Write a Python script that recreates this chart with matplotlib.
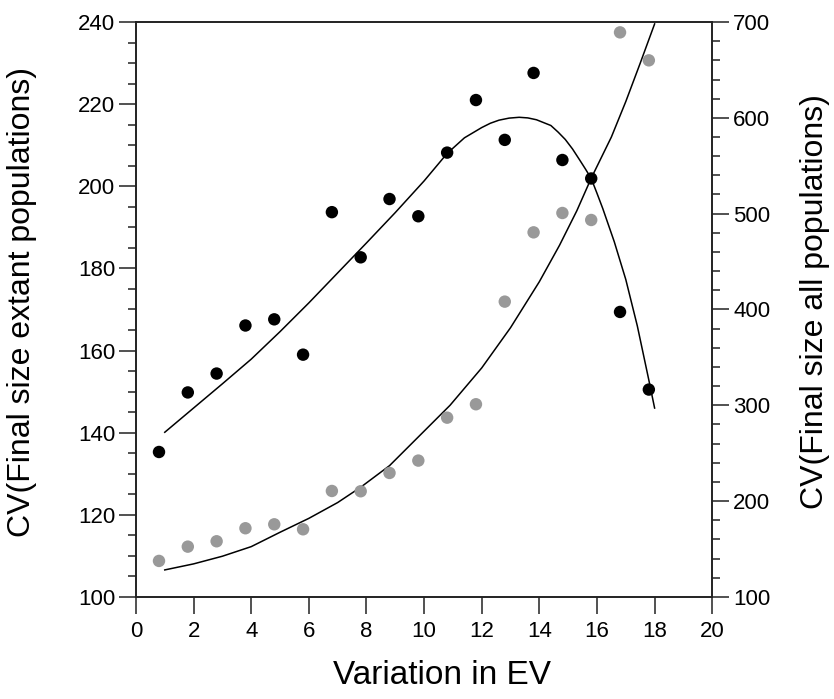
import matplotlib
matplotlib.use("Agg")
import matplotlib.pyplot as plt
from matplotlib.ticker import MultipleLocator

plt.rcParams['font.family'] = ['Liberation Sans', 'DejaVu Sans']

# Points
variation_ev = [0.8, 1.8, 2.8, 3.8, 4.8, 5.8, 6.8, 7.8, 8.8, 9.8,
                10.8, 11.8, 12.8, 13.8, 14.8, 15.8, 16.8, 17.8]
cv_extant = [135.3, 149.8, 154.4, 166.1, 167.6, 159.0, 193.7, 182.7, 196.9,
             192.7, 208.2, 221.0, 211.3, 227.6, 206.4, 201.9, 169.4, 150.5]
cv_all = [137.6, 152.5, 158.1, 171.7, 175.8, 170.6, 210.6, 210.3, 229.4,
          242.3, 287.1, 301.1, 408.2, 480.5, 500.7, 493.4, 689.2, 660.0]

# Courbes d'ajustement, relevees point par point sur l'image
fit_x_extant = [1.0, 2.0, 3.0, 4.0, 5.0, 6.0, 7.0, 8.0, 9.0, 10.0, 10.8,
                11.4, 12.0, 12.3, 12.6, 12.95, 13.3, 13.6, 13.9, 14.15, 14.4,
                14.65, 14.9, 15.15, 15.4, 15.6, 15.8, 16.0, 16.2, 16.6, 17.0,
                17.4, 17.8, 18.0]
fit_extant = [140.1, 146.0, 151.9, 157.9, 164.6, 171.6, 178.9, 186.2, 193.6,
              201.3, 208.0, 211.8, 214.3, 215.35, 216.1, 216.6, 216.8, 216.65,
              216.2, 215.5, 214.8, 213.2, 211.4, 209.1, 206.4, 204.2, 201.9,
              198.3, 194.6, 186.5, 177.3, 166.0, 152.8, 146.0]
fit_x_all = [1.0, 2.0, 3.0, 4.0, 5.0, 6.0, 7.0, 7.8, 8.8, 10.0, 10.9, 12.0,
             13.0, 14.0, 14.7, 15.3, 15.8, 16.5, 17.0, 17.5, 18.0]
fit_all = [128.2, 134.5, 142.5, 152.5, 167.5, 182.0, 198.5, 214.5, 237.0,
           273.0, 300.0, 339.0, 381.0, 429.0, 467.0, 503.0, 537.0, 580.0,
           617.0, 657.0, 698.0]

fig = plt.figure(figsize=(8.34, 6.99), dpi=100)
ax = fig.add_axes([0.163, 0.146, 0.691, 0.8225])
ax2 = ax.twinx()

ax.plot(fit_x_extant, fit_extant, color='black', lw=1.1, zorder=2)
ax2.plot(fit_x_all, fit_all, color='black', lw=1.1, zorder=2)

ax.scatter(variation_ev, cv_extant, s=80, color='black', edgecolors='none', zorder=3)
ax2.scatter(variation_ev, cv_all, s=80, color='#999999', edgecolors='none', zorder=3)

ax.set_xlim(0, 20)
ax.set_ylim(100, 240)
ax2.set_ylim(100, 700)

ax.xaxis.set_major_locator(MultipleLocator(2))
ax.yaxis.set_major_locator(MultipleLocator(20))
ax.yaxis.set_minor_locator(MultipleLocator(5))
ax2.yaxis.set_major_locator(MultipleLocator(100))
ax2.yaxis.set_minor_locator(MultipleLocator(20))

for a in (ax, ax2):
    a.tick_params(which='major', direction='out', length=12, width=1.1,
                  labelsize=16, color='#222222')
    a.tick_params(which='minor', direction='out', length=5.5, width=1.1,
                  color='#222222')
    for sp in a.spines.values():
        sp.set_linewidth(1.2)
        sp.set_color('#222222')
ax.tick_params(axis='x', pad=5)
ax.tick_params(axis='y', pad=3)
ax2.tick_params(axis='y', pad=3)

ax.set_xlabel('Variation in EV', fontsize=24)
ax.set_ylabel('CV(Final size extant populations)', fontsize=23)
ax2.set_ylabel('CV(Final size all populations)', fontsize=23)
ax.xaxis.set_label_coords(0.531, -0.110)
ax.yaxis.set_label_coords(-0.172, 0.513)
ax2.yaxis.set_label_coords(1.152, 0.513)

fig.savefig('out.png', dpi=100)
